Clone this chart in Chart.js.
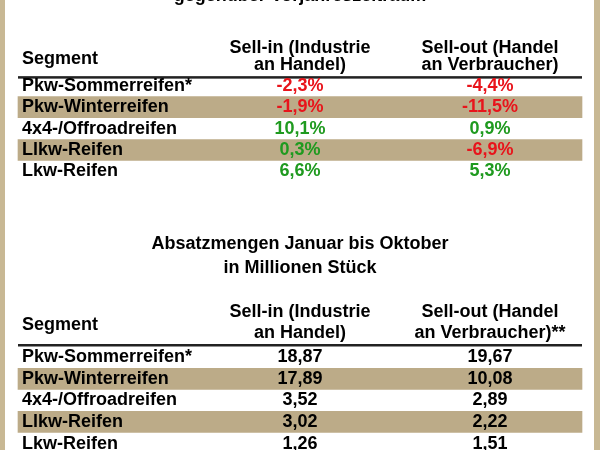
<!DOCTYPE html><html><head><meta charset="utf-8">
<script src="https://cdn.jsdelivr.net/npm/chart.js@4"></script>
<style>html,body{margin:0;padding:0;background:#fff}canvas{display:block}</style></head><body>
<div style="width:600px;height:450px"><canvas id="c"></canvas></div>
<script>
const segments=["Pkw-Sommerreifen*","Pkw-Winterreifen","4x4-/Offroadreifen","Llkw-Reifen","Lkw-Reifen"];
const sellInPct=[-2.3,-1.9,10.1,0.3,6.6];
const sellOutPct=[-4.4,-11.5,0.9,-6.9,5.3];
const sellInMio=[18.87,17.89,3.52,3.02,1.26];
const sellOutMio=[19.67,10.08,2.89,2.22,1.51];
const rows1=[4,5,6,7,8];
const rows2=[16.67,17.68,18.68,19.69,20.72];
const fmt=v=>v.toFixed(2).replace('.',',');
const fmtP=v=>v.toFixed(1).replace('.',',')+'%';
const STRIPE='#bcab88';
const stripeData=[rows1[1],rows1[3],rows2[1],rows2[3]].map(y=>({x:[18,582],y}));
const F='"Liberation Sans", Arial, sans-serif';
const textPlugin={id:'t',afterDatasetsDraw(ch){
 const c=ch.ctx,X=ch.scales.x,Y=ch.scales.y;
 const px=v=>X.getPixelForValue(v),py=v=>Y.getPixelForValue(v);
 c.save();
 c.fillStyle='#c8b894';c.fillRect(0,0,5,450);c.fillRect(594,0,6,450);
 c.textBaseline='middle';
 const t=(s,x,y,al,col,sz)=>{c.font='bold '+(sz||18)+'px '+F;c.fillStyle=col||'#000';c.textAlign=al;c.fillText(s,px(x),py(y));};
 t('gegenüber Vorjahreszeitraum',300,-0.2,'center','#000',18);
 const hdr=(a,b,r,star)=>{
  t('Segment',22,(a+b)/2+0.12,'left','#000',18);
  t('Sell-in (Industrie',300,a,'center');t('an Handel)',300,b,'center');
  t('Sell-out (Handel',490,a,'center');t('an Verbraucher)'+star,490,b,'center');
  c.fillStyle='#222';c.fillRect(px(18),py(r)-1,px(582)-px(18),2.5);
 };
 hdr(2.24,3.03,3.6,'');
 hdr(14.56,15.54,16.1,'**');
 t('Absatzmengen Januar bis Oktober',300,11.39,'center');
 t('in Millionen Stück',300,12.5,'center');
 const red='#e8141b',grn='#1f9a1f';
 segments.forEach((s,i)=>{
  t(s,22,rows1[i],'left');
  t(fmtP(sellInPct[i]),300,rows1[i],'center',sellInPct[i]<0?red:grn);
  t(fmtP(sellOutPct[i]),490,rows1[i],'center',sellOutPct[i]<0?red:grn);
  t(s,22,rows2[i],'left');
  t(fmt(sellInMio[i]),300,rows2[i],'center');
  t(fmt(sellOutMio[i]),490,rows2[i],'center');
 });
 c.restore();
}};
new Chart(document.getElementById('c'),{type:'bar',
 data:{datasets:[{data:stripeData,backgroundColor:STRIPE,borderWidth:0,barThickness:21}]},
 options:{indexAxis:'y',responsive:true,maintainAspectRatio:false,animation:false,
  layout:{padding:0},
  plugins:{legend:{display:false},tooltip:{enabled:false}},
  scales:{x:{type:'linear',min:0,max:600,display:false,offset:false},
          y:{type:'linear',min:0,max:21,reverse:true,display:false,offset:false}}},
 plugins:[textPlugin]});
</script></body></html>
